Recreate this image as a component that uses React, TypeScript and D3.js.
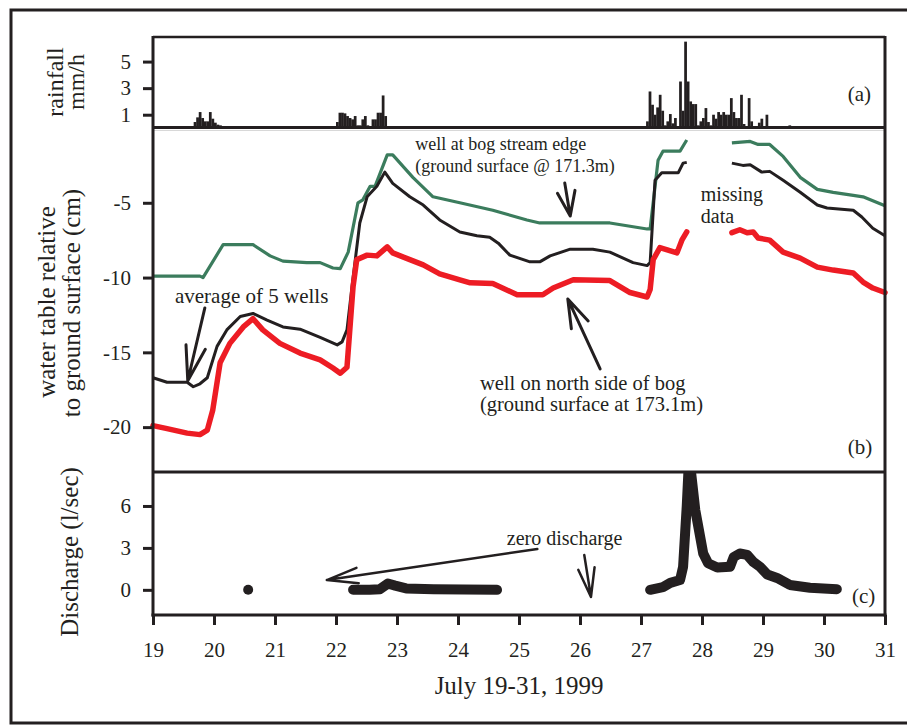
import { useEffect, useRef } from 'react';
import * as d3 from 'd3';

// rainfall, hourly totals (mm/h); each cluster starts at the given hour after July 19 00:00
const rainJul19Start = 16;
const rainJul19 = [0.45, 0.8, 1.2, 0.75, 0.5, 0.5, 1.2, 0.7, 0.4, 0.25, 0.2];
const rainJul22Start = 72;
const rainJul22 = [0.45, 1.15, 1.15, 1.1, 0.9, 0.75, 0.65, 0.9, 0.2, 0.2, 0.65, 0.9, 0.2, 0.05, 0.65, 0.65, 1.15, 1.15, 2.45, 0.9];
const rainJul25Start = 150;
const rainJul25 = [0.15, 0, 0.15, 0, 0.15, 0, 0, 0, 0, 0, 0.15];
const rainJul27Start = 194;
const rainJul27 = [
  0.5, 2.75, 1.75, 1.0, 1.55, 2.5, 1.3, 0.2, 0.5, 1.05, 0.35, 0.75, 0.15, 3.5, 1.3, 6.5,
  3.5, 2.0, 1.8, 1.8, 0.2, 0.5, 0.75, 1.5, 0.45, 0.2, 1.0, 0.7, 1.2, 1.0, 1.2, 1.0,
  1.0, 2.25, 1.2, 0.75, 0.75, 2.5, 0.3, 0.15, 2.25, 0.5, 0.1, 0, 0.4, 0.7, 0.15, 1.0,
];
const rainJul29Start = 250;
const rainJul29 = [0.2];

// water table relative to ground surface (cm); null = missing data
const streamDays = [19.0, 19.77, 19.82, 20.15, 20.64, 20.92, 21.13, 21.52, 21.74, 21.95, 22.07, 22.2, 22.36, 22.44, 22.56, 22.64, 22.84, 22.93, 23.26, 23.59, 24.03, 24.57, 25.13, 25.34, 26.49, 27.1, 27.15, 27.28, 27.36, 27.64, 27.75, 28.1, 28.49, 28.79, 28.92, 29.11, 29.33, 29.61, 29.89, 30.15, 30.48, 30.64, 31.0];
const streamLevel = [-9.9, -9.9, -10.0, -7.8, -7.8, -8.55, -8.9, -9.0, -9.0, -9.36, -9.4, -8.3, -5.0, -4.8, -3.9, -3.9, -1.8, -1.8, -3.3, -4.6, -5.0, -5.5, -6.15, -6.35, -6.35, -6.75, -6.75, -2.15, -1.55, -1.55, -0.8, null, -1.0, -0.9, -1.1, -1.1, -1.9, -3.3, -4.1, -4.3, -4.5, -4.6, -5.2];

const avgDays = [19.0, 19.23, 19.56, 19.66, 19.77, 19.89, 20.05, 20.21, 20.43, 20.64, 20.87, 21.13, 21.41, 21.74, 22.02, 22.1, 22.18, 22.28, 22.39, 22.51, 22.67, 22.8, 22.93, 23.21, 23.43, 23.7, 24.03, 24.31, 24.52, 24.66, 24.85, 25.18, 25.34, 25.51, 25.84, 26.21, 26.49, 26.87, 27.1, 27.15, 27.23, 27.34, 27.61, 27.69, 27.75, 28.1, 28.49, 28.67, 28.79, 28.98, 29.11, 29.33, 29.61, 29.89, 30.05, 30.48, 30.62, 30.8, 31.0];
const avgLevel = [-16.7, -17.0, -17.0, -17.3, -17.1, -16.7, -14.6, -13.5, -12.6, -12.4, -12.85, -13.3, -13.45, -14.0, -14.5, -14.3, -13.5, -10.0, -6.35, -4.6, -3.9, -2.95, -3.7, -4.6, -5.15, -6.15, -6.95, -7.2, -7.3, -7.7, -8.5, -8.95, -8.95, -8.55, -8.1, -8.1, -8.3, -9.0, -9.2, -9.0, -3.5, -3.0, -3.0, -2.35, -2.3, null, -2.35, -2.5, -2.45, -2.95, -2.9, -3.5, -4.3, -5.15, -5.35, -5.5, -5.95, -6.7, -7.2];

const northDays = [19.0, 19.23, 19.56, 19.77, 19.89, 19.98, 20.1, 20.26, 20.48, 20.64, 20.8, 21.08, 21.41, 21.74, 21.95, 22.07, 22.18, 22.28, 22.34, 22.51, 22.67, 22.84, 22.93, 23.21, 23.43, 23.7, 24.03, 24.2, 24.57, 24.97, 25.39, 25.56, 25.89, 26.49, 26.82, 27.1, 27.15, 27.2, 27.31, 27.43, 27.59, 27.67, 27.75, 28.1, 28.49, 28.62, 28.74, 28.84, 28.92, 29.11, 29.33, 29.61, 29.89, 30.15, 30.48, 30.64, 30.8, 31.0];
const northLevel = [-19.9, -20.1, -20.4, -20.5, -20.2, -18.85, -15.7, -14.4, -13.3, -12.75, -13.5, -14.4, -15.05, -15.5, -16.05, -16.4, -16.0, -10.6, -8.8, -8.5, -8.55, -7.95, -8.35, -8.8, -9.15, -9.75, -10.15, -10.35, -10.4, -11.15, -11.15, -10.7, -10.15, -10.2, -11.0, -11.3, -10.8, -8.8, -8.0, -8.15, -8.35, -7.5, -6.95, null, -7.0, -6.8, -7.0, -6.95, -7.35, -7.5, -8.3, -8.7, -9.3, -9.5, -9.7, -10.3, -10.7, -11.0];

// stream discharge (l/sec)
const flowDotDay = [20.56];
const flowDotValue = [0];
const flowADays = [22.28, 22.55, 22.72, 22.85, 22.97, 23.15, 23.6, 24.1, 24.64];
const flowA = [0, 0, 0.05, 0.45, 0.3, 0.1, 0.05, 0.02, 0];
const flowBDays = [27.15, 27.36, 27.48, 27.64, 27.69, 27.75, 27.79, 27.89, 28.02, 28.1, 28.25, 28.46, 28.52, 28.62, 28.74, 28.84, 28.95, 29.07, 29.23, 29.44, 29.77, 30.21];
const flowB = [0, 0.2, 0.5, 0.7, 1.65, 6, 9.6, 5.7, 2.6, 1.9, 1.6, 1.65, 2.35, 2.6, 2.5, 2.0, 1.65, 1.1, 0.85, 0.35, 0.15, 0.05];

const dayTicks = [19, 20, 21, 22, 23, 24, 25, 26, 27, 28, 29, 30, 31];
const rainTicks = [1, 3, 5];
const levelTicks = [-5, -10, -15, -20];
const flowTicks = [0, 3, 6];

const ink = '#231f20';
const serif = '"Liberation Serif", "Times New Roman", Times, serif';

export default function App() {
  const ref = useRef<SVGSVGElement>(null);

  useEffect(() => {
    const svg = d3.select(ref.current);
    svg.selectAll('*').remove();

    const left = 153, right = 885;
    const aTop = 37, aBot = 128, bBot = 472, cBot = 615;

    const x = d3.scaleLinear().domain([19, 31]).range([left, right]);
    const yRain = d3.scaleLinear().domain([0, 6.85]).range([aBot, aTop]);
    const yWell = d3.scaleLinear().domain([0, -23]).range([aBot, bBot]);
    const yFlow = d3.scaleLinear().domain([-1.8, 8.43]).range([cBot, bBot]);

    // outer frame
    svg.append('rect')
      .attr('x', 11).attr('y', 10).attr('width', 920).attr('height', 713)
      .attr('fill', 'none').attr('stroke', ink).attr('stroke-width', 3);

    const styleAxis = g => {
      g.select('.domain').remove();
      g.selectAll('line').attr('stroke', ink).attr('stroke-width', 3);
      g.selectAll('text')
        .attr('font-size', 21).attr('font-family', serif).attr('fill', ink);
    };

    // rainfall bars
    const hourX = h => x(19 + h / 24);
    const clusters = [
      [rainJul19Start, rainJul19],
      [rainJul22Start, rainJul22],
      [rainJul25Start, rainJul25],
      [rainJul27Start, rainJul27],
      [rainJul29Start, rainJul29],
    ] as [number, number[]][];
    clusters.forEach(([start, vals]) => {
      svg.append('g').selectAll('rect')
        .data(vals)
        .enter().append('rect')
        .attr('x', (d, i) => hourX(start + i))
        .attr('width', (d, i) => hourX(start + i + 1) - hourX(start + i) + 0.2)
        .attr('y', d => yRain(d))
        .attr('height', d => aBot - yRain(d))
        .attr('fill', ink);
    });

    // water table lines
    const line = d3.line<[number, number | null]>()
      .defined(d => d[1] != null)
      .x(d => x(d[0]))
      .y(d => yWell(d[1] as number));
    const zip = (days, vals) => days.map((d, i) => [d, vals[i]] as [number, number | null]);

    svg.append('path').attr('d', line(zip(streamDays, streamLevel)))
      .attr('fill', 'none').attr('stroke', '#3b7c5d').attr('stroke-width', 3.2)
      .attr('stroke-linejoin', 'round');
    svg.append('path').attr('d', line(zip(avgDays, avgLevel)))
      .attr('fill', 'none').attr('stroke', ink).attr('stroke-width', 3)
      .attr('stroke-linejoin', 'round');
    svg.append('path').attr('d', line(zip(northDays, northLevel)))
      .attr('fill', 'none').attr('stroke', '#ed1c24').attr('stroke-width', 5.5)
      .attr('stroke-linejoin', 'round').attr('stroke-linecap', 'round');

    // discharge
    svg.append('clipPath').attr('id', 'flowClip')
      .append('rect').attr('x', left).attr('y', bBot).attr('width', right - left).attr('height', cBot - bBot);
    const flowLine = d3.line<[number, number]>().x(d => x(d[0])).y(d => yFlow(d[1]));
    const fg = svg.append('g').attr('clip-path', 'url(#flowClip)');
    [zip(flowADays, flowA), zip(flowBDays, flowB)].forEach(pts => {
      fg.append('path').attr('d', flowLine(pts as [number, number][]))
        .attr('fill', 'none').attr('stroke', ink).attr('stroke-width', 10)
        .attr('stroke-linejoin', 'round').attr('stroke-linecap', 'round');
    });
    fg.selectAll('circle').data(flowDotDay).enter().append('circle')
      .attr('cx', d => x(d)).attr('cy', (d, i) => yFlow(flowDotValue[i]))
      .attr('r', 5).attr('fill', ink);

    // axes
    const ga = svg.append('g').attr('transform', `translate(${left},0)`)
      .call(d3.axisLeft(yRain).tickValues(rainTicks).tickSize(10).tickPadding(12).tickFormat(d => String(d)));
    styleAxis(ga);
    const gb = svg.append('g').attr('transform', `translate(${left},0)`)
      .call(d3.axisLeft(yWell).tickValues(levelTicks).tickSize(10).tickPadding(12).tickFormat(d => String(d)));
    styleAxis(gb);
    const gc = svg.append('g').attr('transform', `translate(${left},0)`)
      .call(d3.axisLeft(yFlow).tickValues(flowTicks).tickSize(10).tickPadding(12).tickFormat(d => String(d)));
    styleAxis(gc);
    const gx = svg.append('g').attr('transform', `translate(0,${cBot})`)
      .call(d3.axisBottom(x).tickValues(dayTicks).tickSize(10).tickPadding(17).tickFormat(d => String(d)));
    styleAxis(gx);

    // panel frames
    const frame = svg.append('g').attr('stroke', ink).attr('fill', 'none');
    frame.append('line').attr('x1', left).attr('x2', right).attr('y1', aTop).attr('y2', aTop).attr('stroke-width', 2.5);
    frame.append('line').attr('x1', left).attr('x2', right).attr('y1', aBot - 0.5).attr('y2', aBot - 0.5).attr('stroke-width', 3);
    frame.append('line').attr('x1', left).attr('x2', right).attr('y1', aBot + 2.5).attr('y2', aBot + 2.5)
      .attr('stroke', '#d8d8d8').attr('stroke-width', 1);
    frame.append('line').attr('x1', left).attr('x2', right).attr('y1', bBot).attr('y2', bBot).attr('stroke-width', 3);
    frame.append('line').attr('x1', left - 1.5).attr('x2', right + 1.5).attr('y1', cBot).attr('y2', cBot).attr('stroke-width', 3);
    frame.append('line').attr('x1', left).attr('x2', left).attr('y1', aTop - 1).attr('y2', cBot + 1.5).attr('stroke-width', 3);
    frame.append('line').attr('x1', right).attr('x2', right).attr('y1', aTop - 1).attr('y2', cBot + 1.5).attr('stroke-width', 3);

    // axis titles
    const text = (tx, ty, s, size, anchor = 'start', rotate = false) =>
      svg.append('text')
        .attr('transform', rotate ? `translate(${tx},${ty}) rotate(-90)` : `translate(${tx},${ty})`)
        .attr('text-anchor', anchor)
        .attr('font-family', serif).attr('font-size', size).attr('fill', ink)
        .text(s);

    text(63, 82, 'rainfall', 24, 'middle', true);
    text(84, 82, 'mm/h', 24, 'middle', true);
    text(55, 302, 'water table relative', 25, 'middle', true);
    text(80, 303, 'to ground surface (cm)', 25, 'middle', true);
    text(78, 552, 'Discharge (l/sec)', 25, 'middle', true);
    text((left + right) / 2, 694, 'July 19-31, 1999', 25, 'middle');

    // panel letters
    text(x(30.39), yRain(2.03), '(a)', 21);
    text(x(30.39), yWell(-21.8), '(b)', 21);
    text(x(30.46), yFlow(-0.94), '(c)', 21);

    // annotations
    const arrow = (x1, y1, x2, y2, head, deg, w) => {
      const a = Math.atan2(y1 - y2, x1 - x2);
      const r = (deg * Math.PI) / 180;
      const p = d3.path();
      p.moveTo(x1, y1);
      p.lineTo(x2, y2);
      p.moveTo(x2 + head * Math.cos(a + r), y2 + head * Math.sin(a + r));
      p.lineTo(x2, y2);
      p.lineTo(x2 + head * Math.cos(a - r), y2 + head * Math.sin(a - r));
      svg.append('path').attr('d', p.toString())
        .attr('fill', 'none').attr('stroke', ink).attr('stroke-width', w)
        .attr('stroke-linecap', 'round').attr('stroke-linejoin', 'round');
    };

    text(x(19.36), yWell(-11.7), 'average of 5 wells', 21);
    arrow(x(19.85), yWell(-12.03), x(19.57), yWell(-16.9), 36, 16, 3);

    text(x(23.3), yWell(-1.47), 'well at bog stream edge', 18);
    text(x(23.3), yWell(-2.94), '(ground surface @ 171.3m)', 18);
    arrow(x(25.75), yWell(-3.68), x(25.84), yWell(-5.88), 26, 20, 3);

    text(x(27.98), yWell(-4.9), 'missing', 20);
    text(x(27.98), yWell(-6.36), 'data', 20);

    text(x(24.36), yWell(-17.55), 'well on north side of bog', 20.5);
    text(x(24.36), yWell(-18.95), '(ground surface at 173.1m)', 20.5);
    arrow(x(26.33), yWell(-16.11), x(25.8), yWell(-11.43), 30, 18, 3);

    text(x(24.8), yFlow(3.21), 'zero discharge', 20);
    arrow(x(25.3), yFlow(2.92), x(21.85), yFlow(0.7), 32, 14, 2.5);
    arrow(x(26.07), yFlow(2.49), x(26.18), yFlow(-0.51), 30, 16, 2.5);
  }, []);

  return (
    <svg
      ref={ref}
      width={907}
      height={725}
      style={{ position: 'absolute', left: 0, top: 0, background: '#fff' }}
    />
  );
}
